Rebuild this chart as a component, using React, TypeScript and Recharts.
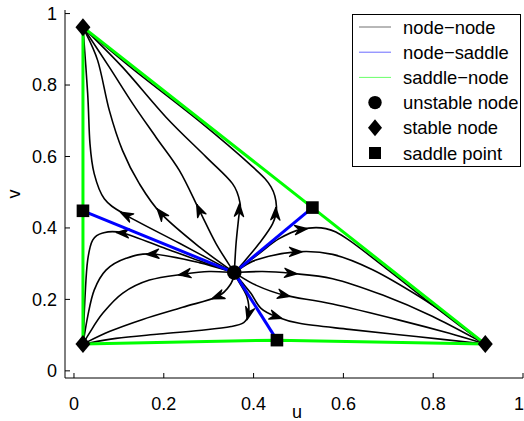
import React from 'react';
import { ComposedChart, Line, Scatter, XAxis, YAxis, Legend } from 'recharts';

const FONT = '"Liberation Sans", Arial, Helvetica, sans-serif';

const xTicks = [0, 0.2, 0.4, 0.6, 0.8, 1];
const yTicks = [0, 0.2, 0.4, 0.6, 0.8, 1];

// equilibria
const unstableNode = [{ u: 0.357, v: 0.275 }];
const stableNodes = [
  { u: 0.02, v: 0.962 },
  { u: 0.02, v: 0.075 },
  { u: 0.916, v: 0.075 },
];
const saddlePoints = [
  { u: 0.02, v: 0.448 },
  { u: 0.531, v: 0.457 },
  { u: 0.452, v: 0.086 },
];

// saddle-node separatrices (through each saddle)
const saddleNodeLeft: [number, number][] = [[0.02, 0.962], [0.02, 0.448], [0.02, 0.075]];
const saddleNodeDiag: [number, number][] = [[0.02, 0.962], [0.531, 0.457], [0.916, 0.075]];
const saddleNodeBottom: [number, number][] = [[0.02, 0.075], [0.452, 0.086], [0.916, 0.075]];

// node-saddle connections
const nodeSaddleLeft: [number, number][] = [[0.357, 0.275], [0.02, 0.448]];
const nodeSaddleTop: [number, number][] = [[0.357, 0.275], [0.531, 0.457]];
const nodeSaddleBottom: [number, number][] = [[0.357, 0.275], [0.452, 0.086]];

// node-node trajectories: unstable node -> top-left stable node
const toTopLeft: [number, number][][] = [
  [[0.357, 0.275], [0.235, 0.357], [0.116, 0.436], [0.0675, 0.482], [0.045, 0.552], [0.0356, 0.636], [0.0305, 0.776], [0.02, 0.962]],
  [[0.357, 0.275], [0.279, 0.347], [0.194, 0.44], [0.1455, 0.524], [0.108, 0.617], [0.0787, 0.729], [0.0527, 0.869], [0.02, 0.962]],
  [[0.357, 0.275], [0.316, 0.357], [0.279, 0.45], [0.2346, 0.561], [0.1826, 0.654], [0.1307, 0.748], [0.0787, 0.85], [0.02, 0.962]],
  [[0.357, 0.275], [0.361, 0.357], [0.367, 0.431], [0.37, 0.468], [0.353, 0.524], [0.294, 0.599], [0.205, 0.71], [0.108, 0.85], [0.02, 0.962]],
  [[0.357, 0.275], [0.375, 0.3], [0.4127, 0.357], [0.4425, 0.412], [0.451, 0.459], [0.4388, 0.515], [0.398, 0.571], [0.279, 0.699], [0.13, 0.846], [0.02, 0.962]],
];
// unstable node -> bottom-left stable node
const toBottomLeft: [number, number][][] = [
  [[0.357, 0.275], [0.279, 0.308], [0.205, 0.342], [0.108, 0.386], [0.064, 0.386], [0.0416, 0.366], [0.0305, 0.31], [0.025, 0.217], [0.02, 0.075]],
  [[0.357, 0.275], [0.279, 0.303], [0.175, 0.327], [0.116, 0.315], [0.0713, 0.282], [0.045, 0.226], [0.0305, 0.152], [0.02, 0.075]],
  [[0.357, 0.275], [0.301, 0.278], [0.246, 0.271], [0.168, 0.254], [0.108, 0.217], [0.064, 0.161], [0.034, 0.105], [0.02, 0.075]],
  [[0.357, 0.275], [0.35, 0.245], [0.32, 0.208], [0.242, 0.178], [0.153, 0.144], [0.0787, 0.11], [0.02, 0.075]],
  [[0.357, 0.275], [0.365, 0.254], [0.385, 0.208], [0.389, 0.16], [0.378, 0.135], [0.35, 0.124], [0.294, 0.115], [0.19, 0.103], [0.0935, 0.091], [0.02, 0.075]],
];
// unstable node -> right stable node
const toRight: [number, number][][] = [
  [[0.357, 0.275], [0.413, 0.329], [0.457, 0.37], [0.506, 0.396], [0.561, 0.398], [0.61, 0.368], [0.7, 0.282], [0.8, 0.183], [0.87, 0.116], [0.916, 0.075]],
  [[0.357, 0.275], [0.405, 0.31], [0.494, 0.333], [0.576, 0.326], [0.665, 0.283], [0.769, 0.208], [0.851, 0.138], [0.916, 0.075]],
  [[0.357, 0.275], [0.42, 0.278], [0.483, 0.273], [0.576, 0.258], [0.6875, 0.212], [0.799, 0.152], [0.916, 0.075]],
  [[0.357, 0.275], [0.405, 0.24], [0.468, 0.212], [0.576, 0.187], [0.7245, 0.142], [0.836, 0.105], [0.916, 0.075]],
  [[0.357, 0.275], [0.376, 0.245], [0.394, 0.217], [0.4165, 0.175], [0.45, 0.152], [0.502, 0.133], [0.613, 0.116], [0.762, 0.096], [0.916, 0.075]],
];

// arrowheads: [position, point just ahead along the trajectory]
const arrows: [number, number][][] = [
  [[0.116, 0.436], [0.094, 0.45]],
  [[0.194, 0.44], [0.178, 0.465]],
  [[0.279, 0.45], [0.27, 0.475]],
  [[0.368, 0.45], [0.369, 0.48]],
  [[0.449, 0.44], [0.45, 0.47]],
  [[0.108, 0.386], [0.085, 0.388]],
  [[0.175, 0.327], [0.145, 0.325]],
  [[0.246, 0.271], [0.215, 0.265]],
  [[0.32, 0.208], [0.29, 0.193]],
  [[0.389, 0.16], [0.384, 0.135]],
  [[0.506, 0.396], [0.535, 0.4]],
  [[0.494, 0.333], [0.525, 0.333]],
  [[0.483, 0.273], [0.515, 0.27]],
  [[0.468, 0.212], [0.5, 0.203]],
  [[0.45, 0.152], [0.48, 0.14]],
];

const legendItems = [
  { label: 'node\u2212node', kind: 'line', color: '#707070' },
  { label: 'node\u2212saddle', kind: 'line', color: '#6a6aff' },
  { label: 'saddle\u2212node', kind: 'line', color: '#6aff6a' },
  { label: 'unstable node', kind: 'circle', color: '#000' },
  { label: 'stable node', kind: 'diamond', color: '#000' },
  { label: 'saddle point', kind: 'square', color: '#000' },
];

const toPts = (arr: [number, number][]) => arr.map(([u, v]) => ({ u, v }));

// Catmull-Rom curve factory (passes through every point)
const catmullRom = (context: any) => {
  let pts: number[][] = [];
  return {
    areaStart() {},
    areaEnd() {},
    lineStart() { pts = []; },
    point(x: number, y: number) { pts.push([+x, +y]); },
    lineEnd() {
      if (!pts.length) return;
      context.moveTo(pts[0][0], pts[0][1]);
      for (let i = 0; i < pts.length - 1; i++) {
        const p0 = pts[Math.max(0, i - 1)];
        const p1 = pts[i];
        const p2 = pts[i + 1];
        const p3 = pts[Math.min(pts.length - 1, i + 2)];
        context.bezierCurveTo(
          p1[0] + (p2[0] - p0[0]) / 6, p1[1] + (p2[1] - p0[1]) / 6,
          p2[0] - (p3[0] - p1[0]) / 6, p2[1] - (p3[1] - p1[1]) / 6,
          p2[0], p2[1],
        );
      }
    },
  };
};

// arrowhead curve factory: draws a concave, filled-looking arrowhead
const arrowHead = (context: any) => {
  let pts: number[][] = [];
  return {
    areaStart() {},
    areaEnd() {},
    lineStart() { pts = []; },
    point(x: number, y: number) { pts.push([+x, +y]); },
    lineEnd() {
      if (pts.length < 2) return;
      const [x0, y0] = pts[0];
      const [x1, y1] = pts[1];
      let dx = x1 - x0;
      let dy = y1 - y0;
      const len = Math.hypot(dx, dy) || 1;
      dx /= len; dy /= len;
      const nx = -dy, ny = dx;
      const L = 12.5, W = 4.6, N = 4;
      const tip = [x0 + dx * L / 2, y0 + dy * L / 2];
      const bx = x0 - dx * L / 2, by = y0 - dy * L / 2;
      const c1 = [bx + nx * W, by + ny * W];
      const c2 = [bx - nx * W, by - ny * W];
      const notch = [bx + dx * N, by + dy * N];
      context.moveTo(tip[0], tip[1]);
      context.lineTo(c1[0], c1[1]);
      context.lineTo(notch[0], notch[1]);
      context.lineTo(c2[0], c2[1]);
      context.closePath();
      const K = 7;
      for (let k = 1; k < K; k++) {
        const t = k / K;
        const a = [c1[0] + (notch[0] - c1[0]) * t, c1[1] + (notch[1] - c1[1]) * t];
        const b = [c2[0] + (notch[0] - c2[0]) * t, c2[1] + (notch[1] - c2[1]) * t];
        context.moveTo(tip[0], tip[1]);
        context.lineTo(a[0], a[1]);
        context.moveTo(tip[0], tip[1]);
        context.lineTo(b[0], b[1]);
      }
    },
  };
};

const fmt = (v: number) => String(v);

const BottomTick = (p: any) => {
  const last = p.payload.value === xTicks[xTicks.length - 1];
  return (
    <g>
      <line x1={p.x} y1={p.y} x2={p.x} y2={p.y - 5} stroke="#000" strokeWidth={1} />
      <text
        x={last ? p.x + 1 : p.x}
        y={p.y + 31.5}
        textAnchor={last ? 'end' : 'middle'}
        fontSize={18}
        fontFamily={FONT}
        fill="#000"
      >
        {fmt(p.payload.value)}
      </text>
    </g>
  );
};
const LeftTick = (p: any) => (
  <g>
    <line x1={p.x} y1={p.y} x2={p.x + 5} y2={p.y} stroke="#000" strokeWidth={1} />
    <text x={p.x - 8} y={p.y + 6.4} textAnchor="end" fontSize={18} fontFamily={FONT} fill="#000">
      {fmt(p.payload.value)}
    </text>
  </g>
);
const TopTick = (p: any) => (
  <line x1={p.x} y1={p.y} x2={p.x} y2={p.y + 5} stroke="#000" strokeWidth={1} />
);
const RightTick = (p: any) => (
  <line x1={p.x} y1={p.y} x2={p.x - 5} y2={p.y} stroke="#000" strokeWidth={1} />
);

const CircleShape = (p: any) => <circle cx={p.cx} cy={p.cy} r={7.3} fill="#000" />;
const DiamondShape = (p: any) => (
  <polygon
    points={`${p.cx},${p.cy - 9} ${p.cx + 7.5},${p.cy} ${p.cx},${p.cy + 9} ${p.cx - 7.5},${p.cy}`}
    fill="#000"
  />
);
const SquareShape = (p: any) => (
  <rect x={p.cx - 6.3} y={p.cy - 6.3} width={12.6} height={12.6} fill="#000" />
);

const LegendBox = () => {
  const w = 169;
  const h = 153;
  return (
    <svg width={w} height={h} style={{ display: 'block' }}>
      <rect x={0.5} y={0.5} width={w - 1} height={h - 1} fill="#fff" stroke="#000" strokeWidth={1} />
      {legendItems.map((it, i) => {
        const cy = 13 + i * 25.2;
        let icon: React.ReactNode = null;
        if (it.kind === 'line') {
          icon = <line x1={7} y1={cy} x2={39} y2={cy} stroke={it.color} strokeWidth={1} />;
        } else if (it.kind === 'circle') {
          icon = <circle cx={23} cy={cy} r={6.7} fill="#000" />;
        } else if (it.kind === 'diamond') {
          icon = <polygon points={`23,${cy - 8.5} 30,${cy} 23,${cy + 8.5} 16,${cy}`} fill="#000" />;
        } else {
          icon = <rect x={17} y={cy - 6} width={12} height={12} fill="#000" />;
        }
        return (
          <g key={it.label}>
            {icon}
            <text x={51} y={cy + 6.5} fontSize={18.4} fontFamily={FONT} fill="#000">
              {it.label}
            </text>
          </g>
        );
      })}
    </svg>
  );
};

const lineCommon = {
  dataKey: 'v',
  dot: false,
  activeDot: false,
  isAnimationActive: false,
  legendType: 'none' as const,
};

export default function App() {
  const trajectories = [...toTopLeft, ...toBottomLeft, ...toRight];
  const greens = [saddleNodeLeft, saddleNodeDiag, saddleNodeBottom];
  const blues = [nodeSaddleLeft, nodeSaddleTop, nodeSaddleBottom];
  return (
    <div style={{ position: 'absolute', left: 0, top: 0, width: 524, height: 421, background: '#fff' }}>
      <ComposedChart width={524} height={421} margin={{ top: 10, right: 1, bottom: 0, left: 0 }}>
        <XAxis
          dataKey="u"
          type="number"
          domain={[-0.02, 1]}
          ticks={xTicks}
          interval={0}
          allowDataOverflow
          height={43}
          tickSize={0}
          tickMargin={0}
          axisLine={{ stroke: '#000', strokeWidth: 1 }}
          tick={BottomTick}
          label={{
            content: (props: any) => {
              const vb = props.viewBox;
              return (
                <text x={vb.x + vb.width / 2 + 3} y={418} textAnchor="middle" fontSize={18} fontFamily={FONT} fill="#000">
                  u
                </text>
              );
            },
          }}
        />
        <XAxis
          xAxisId="top"
          orientation="top"
          type="number"
          domain={[-0.02, 1]}
          ticks={xTicks}
          interval={0}
          allowDataOverflow
          height={0}
          tickSize={0}
          tickMargin={0}
          axisLine={{ stroke: '#000', strokeWidth: 1 }}
          tick={TopTick}
        />
        <YAxis
          dataKey="v"
          type="number"
          domain={[-0.02, 1.01]}
          ticks={yTicks}
          interval={0}
          allowDataOverflow
          width={65}
          tickSize={0}
          tickMargin={0}
          axisLine={{ stroke: '#000', strokeWidth: 1 }}
          tick={LeftTick}
          label={{
            content: (props: any) => {
              const vb = props.viewBox;
              const cy = vb.y + vb.height / 2;
              return (
                <text x={20} y={cy} transform={`rotate(-90, 20, ${cy})`} textAnchor="middle" fontSize={18} fontFamily={FONT} fill="#000">
                  v
                </text>
              );
            },
          }}
        />
        <YAxis
          yAxisId="right"
          orientation="right"
          type="number"
          domain={[-0.02, 1.01]}
          ticks={yTicks}
          interval={0}
          allowDataOverflow
          width={0}
          tickSize={0}
          tickMargin={0}
          axisLine={{ stroke: '#000', strokeWidth: 1 }}
          tick={RightTick}
        />

        {trajectories.map((t, i) => (
          <Line key={'traj' + i} {...lineCommon} data={toPts(t)} type={catmullRom as any} stroke="#000" strokeWidth={1.6} />
        ))}
        {arrows.map((a, i) => (
          <Line
            key={'arr' + i}
            {...lineCommon}
            data={toPts(a)}
            type={arrowHead as any}
            stroke="#000"
            strokeWidth={1.3}
            strokeLinejoin="round"
          />
        ))}
        {greens.map((g, i) => (
          <Line key={'green' + i} {...lineCommon} data={toPts(g)} type="linear" stroke="#00ff00" strokeWidth={3} />
        ))}
        {blues.map((b, i) => (
          <Line key={'blue' + i} {...lineCommon} data={toPts(b)} type="linear" stroke="#0000ff" strokeWidth={3} />
        ))}

        <Scatter data={unstableNode} dataKey="v" shape={CircleShape} isAnimationActive={false} legendType="none" />
        <Scatter data={stableNodes} dataKey="v" shape={DiamondShape} isAnimationActive={false} legendType="none" />
        <Scatter data={saddlePoints} dataKey="v" shape={SquareShape} isAnimationActive={false} legendType="none" />

        <Legend
          layout="vertical"
          align="center"
          verticalAlign="middle"
          wrapperStyle={{ left: 352, top: 14, width: 169, height: 153 }}
          content={LegendBox}
        />
      </ComposedChart>
    </div>
  );
}
